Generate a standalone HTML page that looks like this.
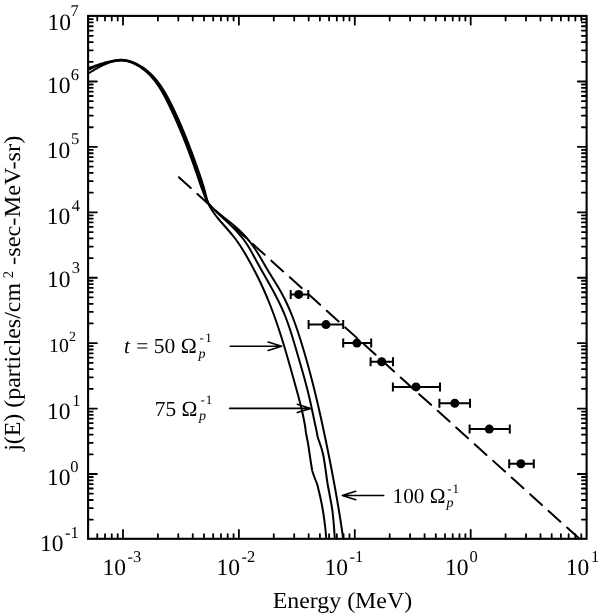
<!DOCTYPE html><html><head><meta charset="utf-8"><style>html,body{margin:0;padding:0;background:#fff;}body{width:600px;height:614px;overflow:hidden;font-family:"Liberation Serif",serif;}svg{display:block;will-change:transform;}text{text-rendering:geometricPrecision;}</style></head><body><svg width="600" height="614" viewBox="0 0 600 614">
<defs><clipPath id="pc"><rect x="88.10" y="15.90" width="498.50" height="522.90"/></clipPath></defs>
<g clip-path="url(#pc)" fill="none" stroke="#000" stroke-width="2" stroke-linejoin="round" stroke-linecap="round">
<path d="M82.85,70.57 L84.26,69.97 L85.65,69.40 L87.01,68.84 L88.34,68.31 L89.64,67.80 L90.92,67.30 L92.17,66.83 L93.39,66.37 L94.59,65.94 L95.77,65.52 L96.91,65.12 L98.04,64.74 L99.14,64.38 L100.21,64.03 L101.26,63.71 L102.29,63.39 L103.30,63.10 L104.28,62.82 L105.24,62.56 L106.18,62.31 L107.10,62.08 L108.00,61.86 L108.88,61.65 L109.74,61.46 L110.57,61.28 L111.39,61.11 L112.19,60.93 L112.97,60.76 L113.73,60.60 L114.48,60.46 L115.21,60.33 L115.93,60.22 L116.63,60.12 L117.32,60.04 L118.00,59.97 L118.66,59.91 L119.31,59.87 L119.95,59.84 L120.57,59.82 L121.19,59.81 L121.79,59.82 L122.38,59.84 L122.96,59.87 L123.53,59.90 L124.09,59.95 L124.64,60.01 L125.18,60.08 L125.71,60.16 L126.23,60.25 L126.74,60.34 L127.25,60.45 L127.74,60.56 L128.23,60.68 L128.71,60.81 L129.19,60.94 L129.66,61.08 L130.12,61.22 L130.57,61.37 L131.02,61.53 L131.47,61.69 L131.91,61.85 L132.35,62.02 L132.78,62.19 L133.21,62.37 L133.63,62.55 L134.05,62.73 L134.47,62.92 L134.88,63.10 L135.30,63.29 L135.71,63.48 L136.12,63.68 L136.52,63.88 L136.92,64.08 L137.32,64.28 L137.72,64.49 L138.11,64.70 L138.51,64.91 L138.89,65.12 L139.28,65.34 L139.67,65.56 L140.05,65.78 L140.43,66.00 L140.80,66.23 L141.18,66.46 L141.55,66.69 L141.92,66.93 L142.29,67.16 L142.65,67.40 L143.01,67.65 L143.37,67.89 L143.73,68.14 L144.09,68.39 L144.44,68.64 L144.79,68.89 L145.14,69.15 L145.48,69.41 L145.83,69.67 L146.17,69.94 L146.51,70.20 L146.84,70.47 L147.18,70.74 L147.51,71.02 L147.84,71.29 L148.17,71.57 L148.50,71.85 L148.82,72.13 L149.14,72.42 L149.46,72.71 L149.78,73.00 L150.09,73.29 L150.41,73.58 L150.72,73.88 L151.03,74.18 L151.33,74.48 L151.64,74.78 L151.94,75.08 L152.24,75.39 L152.54,75.70 L152.84,76.01 L153.14,76.32 L153.43,76.63 L153.72,76.95 L154.01,77.27 L154.30,77.59 L154.59,77.91 L154.87,78.23 L155.15,78.56 L155.43,78.88 L155.71,79.21 L155.99,79.54 L156.26,79.88 L156.54,80.21 L156.81,80.55 L157.08,80.88 L157.35,81.22 L157.62,81.56 L157.88,81.91 L158.15,82.25 L158.41,82.60 L158.67,82.94 L158.93,83.29 L159.18,83.64 L159.44,84.00 L159.69,84.35 L159.95,84.70 L160.20,85.06 L160.45,85.42 L160.70,85.78 L160.94,86.14 L161.19,86.50 L161.43,86.86 L161.68,87.23 L161.92,87.59 L162.16,87.96 L162.40,88.33 L162.63,88.70 L162.87,89.07 L163.10,89.44 L163.34,89.82 L163.57,90.19 L163.80,90.57 L164.03,90.94 L164.26,91.32 L164.49,91.70 L164.71,92.08 L164.94,92.46 L165.16,92.84 L165.39,93.22 L165.61,93.61 L165.83,93.99 L166.05,94.38 L166.27,94.77 L166.49,95.15 L166.71,95.54 L166.92,95.93 L167.14,96.32 L167.35,96.71 L167.56,97.10 L167.78,97.50 L167.99,97.89 L168.20,98.28 L168.41,98.68 L168.62,99.07 L168.83,99.47 L169.04,99.87 L169.24,100.26 L169.45,100.66 L169.66,101.06 L169.86,101.46 L170.06,101.86 L170.27,102.26 L170.47,102.66 L170.67,103.06 L170.88,103.46 L171.08,103.87 L171.28,104.27 L171.48,104.67 L171.68,105.08 L171.88,105.48 L172.08,105.88 L172.27,106.29 L172.47,106.69 L172.67,107.10 L172.87,107.50 L173.06,107.91 L173.26,108.32 L173.45,108.72 L173.65,109.13 L173.85,109.54 L174.04,109.95 L174.23,110.35 L174.43,110.76 L174.62,111.17 L174.81,111.58 L175.01,111.99 L175.20,112.40 L175.39,112.81 L175.58,113.22 L175.77,113.64 L175.96,114.05 L176.15,114.46 L176.34,114.87 L176.53,115.28 L176.72,115.70 L176.91,116.11 L177.10,116.52 L177.29,116.94 L177.47,117.35 L177.66,117.77 L177.85,118.18 L178.03,118.60 L178.22,119.02 L178.40,119.43 L178.59,119.85 L178.77,120.27 L178.96,120.68 L179.14,121.10 L179.32,121.52 L179.51,121.94 L179.69,122.36 L179.87,122.77 L180.06,123.19 L180.24,123.61 L180.42,124.03 L180.60,124.45 L180.78,124.87 L180.96,125.29 L181.14,125.72 L181.32,126.14 L181.50,126.56 L181.68,126.98 L181.86,127.40 L182.04,127.83 L182.22,128.25 L182.40,128.67 L182.57,129.10 L182.75,129.52 L182.93,129.94 L183.11,130.37 L183.28,130.79 L183.46,131.22 L183.63,131.64 L183.81,132.07 L183.99,132.49 L184.16,132.92 L184.34,133.35 L184.51,133.77 L184.69,134.20 L184.86,134.63 L185.03,135.05 L185.21,135.48 L185.38,135.91 L185.55,136.34 L185.73,136.77 L185.90,137.20 L186.07,137.63 L186.24,138.06 L186.41,138.48 L186.58,138.91 L186.76,139.35 L186.93,139.78 L187.10,140.21 L187.27,140.64 L187.44,141.07 L187.61,141.50 L187.78,141.93 L187.94,142.36 L188.11,142.80 L188.28,143.23 L188.45,143.66 L188.62,144.10 L188.79,144.53 L188.95,144.96 L189.12,145.40 L189.29,145.83 L189.45,146.26 L189.62,146.70 L189.79,147.13 L189.95,147.57 L190.12,148.00 L190.28,148.44 L190.45,148.88 L190.62,149.31 L190.78,149.75 L190.94,150.19 L191.11,150.62 L191.27,151.06 L191.44,151.50 L191.60,151.93 L191.76,152.37 L191.93,152.81 L192.09,153.25 L192.25,153.69 L192.41,154.13 L192.58,154.56 L192.74,155.00 L192.90,155.44 L193.06,155.88 L193.22,156.32 L193.38,156.76 L193.54,157.20 L193.70,157.64 L193.86,158.08 L194.02,158.52 L194.18,158.97 L194.34,159.41 L194.50,159.85 L194.66,160.29 L194.82,160.73 L194.98,161.17 L195.14,161.62 L195.30,162.06 L195.45,162.50 L195.61,162.95 L195.77,163.39 L195.93,163.83 L196.08,164.28 L196.24,164.72 L196.40,165.16 L196.56,165.61 L196.71,166.05 L196.87,166.50 L197.02,166.94 L197.18,167.39 L197.34,167.83 L197.49,168.28 L197.65,168.72 L197.80,169.17 L197.96,169.62 L198.11,170.06 L198.26,170.51 L198.42,170.96 L198.57,171.40 L198.73,171.85 L198.88,172.30 L199.03,172.74 L199.19,173.19 L199.34,173.64 L199.49,174.09 L199.65,174.54 L199.80,174.98 L199.95,175.43 L200.10,175.88 L200.25,176.33 L200.41,176.78 L200.56,177.23 L200.71,177.68 L200.86,178.13 L201.01,178.58 L201.16,179.03 L201.31,179.48 L201.46,179.93 L201.61,180.38 L201.76,180.83 L201.91,181.28 L202.06,181.73 L202.21,182.18 L202.36,182.63 L202.51,183.08 L202.65,183.54 L202.80,183.99 L202.94,184.44 L203.08,184.90 L203.21,185.35 L203.35,185.81 L203.48,186.27 L203.62,186.73 L203.75,187.18 L203.88,187.64 L204.01,188.10 L204.14,188.56 L204.27,189.02 L204.39,189.48 L204.52,189.94 L204.64,190.40 L204.77,190.86 L204.89,191.32 L205.01,191.78 L205.14,192.25 L205.26,192.71 L205.38,193.17 L205.50,193.63 L205.62,194.09 L205.74,194.56 L205.86,195.02 L205.99,195.48 L206.11,195.95 L206.23,196.41 L206.35,196.87 L206.47,197.33 L206.59,197.80 L206.71,198.26 L206.81,198.65 L208.20,203.00 L208.41,203.50 L208.62,204.00 L208.84,204.50 L209.07,205.00 L209.31,205.50 L209.56,206.00 L209.82,206.50 L210.09,207.00 L210.36,207.50 L210.64,208.00 L210.93,208.50 L211.23,209.00 L211.54,209.50 L211.85,210.00 L212.17,210.50 L212.50,211.00 L212.84,211.50 L213.18,212.00 L213.52,212.50 L213.88,213.00 L214.24,213.50 L214.60,214.00 L214.97,214.50 L215.35,215.00 L215.73,215.50 L216.12,216.00 L216.51,216.50 L216.90,217.00 L217.30,217.50 L217.71,218.00 L218.12,218.50 L218.53,219.00 L218.95,219.50 L219.37,220.00 L219.79,220.50 L220.21,221.00 L220.64,221.50 L221.07,222.00 L221.51,222.50 L221.94,223.00 L222.38,223.50 L222.82,224.00 L223.26,224.50 L223.70,225.00 L224.14,225.50 L224.58,226.00 L225.02,226.50 L225.47,227.00 L225.91,227.50 L226.35,228.00 L226.79,228.50 L227.23,229.00 L227.67,229.50 L228.10,230.00 L228.54,230.50 L228.97,231.00 L229.40,231.50 L229.83,232.00 L230.26,232.50 L230.68,233.00 L231.10,233.50 L231.51,234.00 L231.93,234.50 L232.33,235.00 L232.74,235.50 L233.14,236.00 L233.53,236.50 L233.92,237.00 L234.31,237.50 L234.70,238.00 L235.07,238.50 L235.45,239.00 L235.82,239.50 L236.19,240.00 L236.56,240.50 L236.92,241.00 L237.28,241.50 L237.63,242.00 L237.98,242.50 L238.33,243.00 L238.67,243.50 L239.02,244.00 L239.35,244.50 L239.69,245.00 L240.02,245.50 L240.35,246.00 L240.68,246.50 L241.01,247.00 L241.33,247.50 L241.65,248.00 L241.96,248.50 L242.28,249.00 L242.59,249.50 L242.90,250.00 L243.21,250.50 L243.52,251.00 L243.82,251.50 L244.12,252.00 L244.42,252.50 L244.72,253.00 L245.02,253.50 L245.31,254.00 L245.60,254.50 L245.89,255.00 L246.18,255.50 L246.47,256.00 L246.76,256.50 L247.05,257.00 L247.33,257.50 L247.61,258.00 L247.90,258.50 L248.18,259.00 L248.46,259.50 L248.74,260.00 L249.02,260.50 L249.30,261.00 L249.57,261.50 L249.85,262.00 L250.13,262.50 L250.40,263.00 L250.67,263.50 L250.95,264.00 L251.22,264.50 L251.49,265.00 L251.76,265.50 L252.03,266.00 L252.30,266.50 L252.57,267.00 L252.84,267.50 L253.10,268.00 L253.37,268.50 L253.63,269.00 L253.90,269.50 L254.16,270.00 L254.42,270.50 L254.68,271.00 L254.94,271.50 L255.20,272.00 L255.46,272.50 L255.72,273.00 L255.97,273.50 L256.23,274.00 L256.48,274.50 L256.73,275.00 L256.99,275.50 L257.24,276.00 L257.49,276.50 L257.74,277.00 L257.99,277.50 L258.23,278.00 L258.48,278.50 L258.72,279.00 L258.97,279.50 L259.21,280.00 L259.45,280.50 L259.69,281.00 L259.93,281.50 L260.17,282.00 L260.41,282.50 L260.65,283.00 L260.88,283.50 L261.12,284.00 L261.35,284.50 L261.58,285.00 L261.82,285.50 L262.05,286.00 L262.28,286.50 L262.51,287.00 L262.73,287.50 L262.96,288.00 L263.19,288.50 L263.41,289.00 L263.64,289.50 L263.86,290.00 L264.08,290.50 L264.30,291.00 L264.52,291.50 L264.74,292.00 L264.96,292.50 L265.18,293.00 L265.39,293.50 L265.61,294.00 L265.82,294.50 L266.04,295.00 L266.25,295.50 L266.46,296.00 L266.67,296.50 L266.88,297.00 L267.09,297.50 L267.30,298.00 L267.51,298.50 L267.72,299.00 L267.92,299.50 L268.13,300.00 L268.33,300.50 L268.54,301.00 L268.74,301.50 L268.94,302.00 L269.14,302.50 L269.34,303.00 L269.54,303.50 L269.74,304.00 L269.94,304.50 L270.13,305.00 L270.33,305.50 L270.53,306.00 L270.72,306.50 L270.92,307.00 L271.11,307.50 L271.30,308.00 L271.49,308.50 L271.68,309.00 L271.87,309.50 L272.06,310.00 L272.25,310.50 L272.44,311.00 L272.63,311.50 L272.81,312.00 L273.00,312.50 L273.18,313.00 L273.37,313.50 L273.55,314.00 L273.74,314.50 L273.92,315.00 L274.10,315.50 L274.28,316.00 L274.46,316.50 L274.64,317.00 L274.82,317.50 L275.00,318.00 L275.18,318.50 L275.35,319.00 L275.53,319.50 L275.71,320.00 L275.88,320.50 L276.06,321.00 L276.23,321.50 L276.40,322.00 L276.58,322.50 L276.75,323.00 L276.92,323.50 L277.09,324.00 L277.26,324.50 L277.43,325.00 L277.60,325.50 L277.77,326.00 L277.94,326.50 L278.11,327.00 L278.27,327.50 L278.44,328.00 L278.61,328.50 L278.77,329.00 L278.94,329.50 L279.10,330.00 L279.27,330.50 L279.43,331.00 L279.59,331.50 L279.75,332.00 L279.92,332.50 L280.08,333.00 L280.24,333.50 L280.40,334.00 L280.56,334.50 L280.72,335.00 L280.88,335.50 L281.04,336.00 L281.20,336.50 L281.35,337.00 L281.51,337.50 L281.67,338.00 L281.82,338.50 L281.98,339.00 L282.14,339.50 L282.29,340.00 L282.45,340.50 L282.60,341.00 L282.76,341.50 L282.91,342.00 L283.06,342.50 L283.21,343.00 L283.37,343.50 L283.52,344.00 L283.67,344.50 L283.82,345.00 L283.97,345.50 L284.12,346.00 L284.28,346.50 L284.43,347.00 L284.58,347.50 L284.72,348.00 L284.87,348.50 L285.02,349.00 L285.17,349.50 L285.32,350.00 L285.47,350.50 L285.61,351.00 L285.76,351.50 L285.91,352.00 L286.06,352.50 L286.20,353.00 L286.35,353.50 L286.49,354.00 L286.64,354.50 L286.79,355.00 L286.93,355.50 L287.08,356.00 L287.22,356.50 L287.37,357.00 L287.51,357.50 L287.65,358.00 L287.80,358.50 L287.94,359.00 L288.08,359.50 L288.23,360.00 L288.37,360.50 L288.51,361.00 L288.66,361.50 L288.80,362.00 L288.94,362.50 L289.08,363.00 L289.23,363.50 L289.37,364.00 L289.51,364.50 L289.65,365.00 L289.79,365.50 L289.93,366.00 L290.07,366.50 L290.22,367.00 L290.36,367.50 L290.50,368.00 L290.64,368.50 L290.78,369.00 L290.92,369.50 L291.06,370.00 L291.20,370.50 L291.34,371.00 L291.48,371.50 L291.62,372.00 L291.76,372.50 L291.90,373.00 L292.04,373.50 L292.18,374.00 L292.32,374.50 L292.46,375.00 L292.60,375.50 L292.74,376.00 L292.88,376.50 L293.02,377.00 L293.16,377.50 L293.30,378.00 L293.44,378.50 L293.58,379.00 L293.72,379.50 L293.86,380.00 L294.00,380.50 L294.14,381.00 L294.28,381.50 L294.42,382.00 L294.56,382.50 L294.70,383.00 L294.84,383.50 L294.98,384.00 L295.12,384.50 L295.26,385.00 L295.40,385.50 L295.54,386.00 L295.68,386.50 L295.81,387.00 L295.95,387.50 L296.09,388.00 L296.23,388.50 L296.37,389.00 L296.51,389.50 L296.64,390.00 L296.78,390.50 L296.92,391.00 L297.06,391.50 L297.19,392.00 L297.33,392.50 L297.46,393.00 L297.60,393.50 L297.74,394.00 L297.87,394.50 L298.01,395.00 L298.14,395.50 L298.27,396.00 L298.41,396.50 L298.54,397.00 L298.67,397.50 L298.80,398.00 L298.94,398.50 L299.07,399.00 L299.20,399.50 L299.33,400.00 L299.46,400.50 L299.59,401.00 L299.72,401.50 L299.84,402.00 L299.97,402.50 L300.10,403.00 L300.22,403.50 L300.35,404.00 L300.47,404.50 L300.60,405.00 L300.72,405.50 L300.84,406.00 L300.97,406.50 L301.09,407.00 L301.21,407.50 L301.33,408.00 L301.45,408.50 L301.57,409.00 L301.69,409.50 L301.80,410.00 L301.92,410.50 L302.03,411.00 L302.15,411.50 L302.26,412.00 L302.37,412.50 L302.49,413.00 L302.60,413.50 L302.71,414.00 L302.82,414.50 L302.93,415.00 L303.03,415.50 L303.14,416.00 L303.24,416.50 L303.35,417.00 L303.45,417.50 L303.56,418.00 L303.66,418.50 L303.76,419.00 L303.86,419.50 L303.95,420.00 L304.05,420.50 L304.15,421.00 L304.24,421.50 L304.34,422.00 L304.43,422.50 L304.52,423.00 L304.61,423.50 L304.71,424.00 L304.79,424.50 L304.88,425.00 L304.97,425.50 L305.05,426.00 L305.13,426.50 L305.20,427.00 L305.27,427.50 L305.34,428.00 L305.40,428.50 L305.47,429.00 L305.53,429.50 L305.59,430.00 L305.65,430.50 L305.71,431.00 L305.78,431.50 L305.86,432.00 L305.93,432.50 L306.02,433.00 L306.11,433.50 L306.20,434.00 L306.29,434.50 L306.39,435.00 L306.49,435.50 L306.58,436.00 L306.68,436.50 L306.77,437.00 L306.87,437.50 L306.97,438.00 L307.07,438.50 L307.17,439.00 L307.27,439.50 L307.37,440.00 L307.48,440.50 L307.57,441.00 L307.67,441.50 L307.77,442.00 L307.86,442.50 L307.95,443.00 L308.03,443.50 L308.12,444.00 L308.20,444.50 L308.28,445.00 L308.36,445.50 L308.44,446.00 L308.52,446.50 L308.59,447.00 L308.67,447.50 L308.74,448.00 L308.82,448.50 L308.89,449.00 L308.96,449.50 L309.03,450.00 L309.10,450.50 L309.17,451.00 L309.25,451.50 L309.32,452.00 L309.39,452.50 L309.46,453.00 L309.53,453.50 L309.60,454.00 L309.67,454.50 L309.75,455.00 L309.82,455.50 L309.89,456.00 L309.97,456.50 L310.05,457.00 L310.12,457.50 L310.20,458.00 L310.28,458.50 L310.36,459.00 L310.43,459.50 L310.51,460.00 L310.59,460.50 L310.67,461.00 L310.75,461.50 L310.83,462.00 L310.90,462.50 L310.98,463.00 L311.06,463.50 L311.14,464.00 L311.22,464.50 L311.30,465.00 L311.38,465.50 L311.45,466.00 L311.52,466.50 L311.59,467.00 L311.67,467.50 L311.74,468.00 L311.82,468.50 L311.91,469.00 L312.00,469.50 L312.10,470.00 L312.21,470.50 L312.34,471.00 L312.49,471.50 L312.64,472.00 L312.80,472.50 L312.97,473.00 L313.13,473.50 L313.30,474.00 L313.47,474.50 L313.64,475.00 L313.81,475.50 L313.99,476.00 L314.18,476.50 L314.36,477.00 L314.55,477.50 L314.74,478.00 L314.92,478.50 L315.11,479.00 L315.30,479.50 L315.49,480.00 L315.69,480.50 L315.89,481.00 L316.10,481.50 L316.31,482.00 L316.51,482.50 L316.71,483.00 L316.90,483.50 L317.07,484.00 L317.24,484.50 L317.39,485.00 L317.53,485.50 L317.66,486.00 L317.79,486.50 L317.91,487.00 L318.03,487.50 L318.14,488.00 L318.25,488.50 L318.37,489.00 L318.48,489.50 L318.60,490.00 L318.72,490.50 L318.84,491.00 L318.96,491.50 L319.08,492.00 L319.20,492.50 L319.32,493.00 L319.43,493.50 L319.55,494.00 L319.67,494.50 L319.79,495.00 L319.90,495.50 L320.02,496.00 L320.13,496.50 L320.25,497.00 L320.36,497.50 L320.47,498.00 L320.58,498.50 L320.69,499.00 L320.80,499.50 L320.90,500.00 L321.00,500.50 L321.11,501.00 L321.21,501.50 L321.31,502.00 L321.41,502.50 L321.51,503.00 L321.61,503.50 L321.71,504.00 L321.80,504.50 L321.90,505.00 L322.00,505.50 L322.09,506.00 L322.18,506.50 L322.27,507.00 L322.36,507.50 L322.45,508.00 L322.54,508.50 L322.63,509.00 L322.72,509.50 L322.80,510.00 L322.88,510.50 L322.97,511.00 L323.05,511.50 L323.13,512.00 L323.21,512.50 L323.29,513.00 L323.36,513.50 L323.44,514.00 L323.52,514.50 L323.59,515.00 L323.67,515.50 L323.74,516.00 L323.81,516.50 L323.89,517.00 L323.96,517.50 L324.03,518.00 L324.10,518.50 L324.17,519.00 L324.23,519.50 L324.30,520.00 L324.37,520.50 L324.43,521.00 L324.50,521.50 L324.56,522.00 L324.63,522.50 L324.69,523.00 L324.76,523.50 L324.82,524.00 L324.88,524.50 L324.94,525.00 L325.00,525.50 L325.06,526.00 L325.12,526.50 L325.18,527.00 L325.24,527.50 L325.29,528.00 L325.35,528.50 L325.40,529.00 L325.45,529.50 L325.50,530.00 L325.55,530.50 L325.60,531.00 L325.65,531.50 L325.69,532.00 L325.74,532.50 L325.78,533.00 L325.83,533.50 L325.87,534.00 L325.92,534.50 L325.96,535.00 L326.00,535.50 L326.04,536.00 L326.08,536.50 L326.12,537.00 L326.16,537.50 L326.20,538.00 L326.23,538.50 L326.27,539.00 L326.30,539.50"/>
<path d="M83.68,72.08 L85.04,71.42 L86.38,70.78 L87.70,70.16 L88.99,69.57 L90.25,69.00 L91.49,68.44 L92.70,67.92 L93.89,67.41 L95.05,66.92 L96.19,66.45 L97.31,66.01 L98.40,65.58 L99.47,65.17 L100.52,64.79 L101.55,64.42 L102.55,64.07 L103.54,63.74 L104.50,63.42 L105.44,63.13 L106.36,62.85 L107.26,62.58 L108.15,62.34 L109.01,62.11 L109.86,61.89 L110.68,61.69 L111.49,61.50 L112.28,61.32 L113.05,61.15 L113.81,60.99 L114.55,60.85 L115.27,60.73 L115.98,60.62 L116.68,60.52 L117.36,60.44 L118.03,60.37 L118.69,60.31 L119.33,60.27 L119.96,60.24 L120.58,60.22 L121.19,60.21 L121.78,60.22 L122.36,60.24 L122.93,60.27 L123.50,60.30 L124.05,60.35 L124.59,60.41 L125.12,60.48 L125.64,60.56 L126.16,60.64 L126.66,60.74 L127.16,60.84 L127.65,60.95 L128.13,61.07 L128.61,61.19 L129.08,61.32 L129.54,61.46 L129.99,61.61 L130.44,61.76 L130.89,61.91 L131.33,62.07 L131.76,62.24 L132.19,62.41 L132.62,62.58 L133.04,62.76 L133.46,62.94 L133.87,63.13 L134.29,63.31 L134.70,63.50 L135.11,63.69 L135.51,63.89 L135.91,64.09 L136.31,64.29 L136.71,64.49 L137.10,64.70 L137.49,64.91 L137.88,65.12 L138.26,65.34 L138.65,65.55 L139.03,65.77 L139.40,66.00 L139.78,66.22 L140.15,66.45 L140.52,66.68 L140.89,66.91 L141.25,67.15 L141.61,67.39 L141.97,67.63 L142.33,67.87 L142.68,68.12 L143.03,68.37 L143.38,68.62 L143.73,68.87 L144.07,69.13 L144.42,69.38 L144.76,69.64 L145.09,69.91 L145.43,70.17 L145.76,70.44 L146.09,70.71 L146.42,70.98 L146.75,71.25 L147.07,71.53 L147.39,71.81 L147.71,72.09 L148.03,72.37 L148.34,72.66 L148.66,72.94 L148.97,73.23 L149.27,73.53 L149.58,73.82 L149.89,74.11 L150.19,74.41 L150.49,74.71 L150.79,75.01 L151.08,75.32 L151.38,75.62 L151.67,75.93 L151.96,76.24 L152.25,76.55 L152.54,76.86 L152.82,77.18 L153.10,77.50 L153.38,77.82 L153.66,78.14 L153.94,78.46 L154.22,78.78 L154.49,79.11 L154.76,79.44 L155.03,79.77 L155.30,80.10 L155.57,80.43 L155.83,80.77 L156.10,81.10 L156.36,81.44 L156.62,81.78 L156.88,82.12 L157.14,82.46 L157.39,82.81 L157.65,83.15 L157.90,83.50 L158.15,83.85 L158.40,84.20 L158.65,84.55 L158.90,84.90 L159.14,85.26 L159.38,85.62 L159.63,85.97 L159.87,86.33 L160.11,86.69 L160.35,87.05 L160.58,87.42 L160.82,87.78 L161.05,88.15 L161.29,88.51 L161.52,88.88 L161.75,89.25 L161.98,89.62 L162.21,89.99 L162.44,90.36 L162.66,90.74 L162.89,91.11 L163.11,91.49 L163.34,91.86 L163.56,92.24 L163.78,92.62 L164.00,93.00 L164.22,93.38 L164.43,93.77 L164.65,94.15 L164.87,94.53 L165.08,94.92 L165.30,95.30 L165.51,95.69 L165.72,96.08 L165.93,96.47 L166.14,96.86 L166.35,97.25 L166.56,97.64 L166.77,98.03 L166.98,98.42 L167.18,98.82 L167.39,99.21 L167.59,99.61 L167.80,100.00 L168.00,100.40 L168.21,100.79 L168.41,101.19 L168.61,101.59 L168.81,101.99 L169.01,102.39 L169.21,102.79 L169.41,103.19 L169.61,103.59 L169.81,103.99 L170.01,104.39 L170.21,104.79 L170.40,105.20 L170.60,105.60 L170.80,106.00 L170.99,106.41 L171.19,106.81 L171.38,107.22 L171.58,107.62 L171.77,108.03 L171.97,108.43 L172.16,108.84 L172.35,109.25 L172.55,109.65 L172.74,110.06 L172.93,110.47 L173.12,110.88 L173.31,111.29 L173.51,111.69 L173.70,112.10 L173.89,112.51 L174.08,112.92 L174.27,113.33 L174.46,113.74 L174.65,114.15 L174.84,114.56 L175.02,114.98 L175.21,115.39 L175.40,115.80 L175.59,116.21 L175.78,116.62 L175.96,117.04 L176.15,117.45 L176.34,117.86 L176.52,118.28 L176.71,118.69 L176.89,119.11 L177.08,119.52 L177.26,119.94 L177.45,120.35 L177.63,120.77 L177.81,121.19 L178.00,121.60 L178.18,122.02 L178.36,122.44 L178.55,122.85 L178.73,123.27 L178.91,123.69 L179.09,124.11 L179.27,124.53 L179.45,124.95 L179.63,125.37 L179.81,125.79 L179.99,126.21 L180.17,126.63 L180.35,127.05 L180.53,127.47 L180.71,127.89 L180.89,128.31 L181.07,128.73 L181.24,129.16 L181.42,129.58 L181.60,130.00 L181.78,130.42 L181.95,130.85 L182.13,131.27 L182.30,131.70 L182.48,132.12 L182.66,132.54 L182.83,132.97 L183.01,133.39 L183.18,133.82 L183.35,134.25 L183.53,134.67 L183.70,135.10 L183.87,135.53 L184.05,135.95 L184.22,136.38 L184.39,136.81 L184.57,137.23 L184.74,137.66 L184.91,138.09 L185.08,138.52 L185.25,138.95 L185.42,139.38 L185.59,139.81 L185.76,140.24 L185.93,140.67 L186.10,141.10 L186.27,141.53 L186.44,141.96 L186.61,142.39 L186.78,142.82 L186.95,143.25 L187.12,143.68 L187.29,144.11 L187.45,144.55 L187.62,144.98 L187.79,145.41 L187.95,145.85 L188.12,146.28 L188.29,146.71 L188.45,147.15 L188.62,147.58 L188.79,148.01 L188.95,148.45 L189.12,148.88 L189.28,149.32 L189.45,149.75 L189.61,150.19 L189.77,150.63 L189.94,151.06 L190.10,151.50 L190.27,151.93 L190.43,152.37 L190.59,152.81 L190.75,153.25 L190.92,153.68 L191.08,154.12 L191.24,154.56 L191.40,155.00 L191.56,155.44 L191.73,155.87 L191.89,156.31 L192.05,156.75 L192.21,157.19 L192.37,157.63 L192.53,158.07 L192.69,158.51 L192.85,158.95 L193.01,159.39 L193.17,159.83 L193.33,160.27 L193.49,160.71 L193.64,161.16 L193.80,161.60 L193.96,162.04 L194.12,162.48 L194.28,162.92 L194.43,163.37 L194.59,163.81 L194.75,164.25 L194.91,164.69 L195.06,165.14 L195.22,165.58 L195.38,166.02 L195.53,166.47 L195.69,166.91 L195.84,167.36 L196.00,167.80 L196.15,168.25 L196.31,168.69 L196.46,169.14 L196.62,169.58 L196.77,170.03 L196.93,170.47 L197.08,170.92 L197.24,171.36 L197.39,171.81 L197.54,172.26 L197.70,172.70 L197.85,173.15 L198.00,173.60 L198.16,174.04 L198.31,174.49 L198.46,174.94 L198.61,175.39 L198.77,175.83 L198.92,176.28 L199.07,176.73 L199.22,177.18 L199.37,177.63 L199.52,178.08 L199.68,178.52 L199.83,178.97 L199.98,179.42 L200.13,179.87 L200.28,180.32 L200.43,180.77 L200.58,181.22 L200.73,181.67 L200.88,182.12 L201.03,182.57 L201.18,183.02 L201.33,183.47 L201.47,183.93 L201.62,184.38 L201.77,184.83 L201.92,185.28 L202.07,185.73 L202.22,186.18 L202.37,186.63 L202.51,187.09 L202.66,187.54 L202.81,187.99 L202.96,188.44 L203.10,188.90 L203.25,189.35 L203.40,189.80 L203.55,190.25 L203.69,190.71 L203.84,191.16 L203.99,191.61 L204.13,192.07 L204.28,192.52 L204.42,192.98 L204.57,193.43 L204.72,193.88 L204.86,194.34 L205.01,194.79 L205.15,195.25 L205.30,195.70 L205.44,196.16 L205.59,196.61 L205.73,197.07 L205.88,197.52 L206.02,197.98 L206.17,198.43 L206.29,198.81 L208.19,203.00 L208.57,203.50 L208.96,204.00 L209.37,204.50 L209.78,205.00 L210.21,205.50 L210.64,206.00 L211.09,206.50 L211.54,207.00 L212.00,207.50 L212.47,208.00 L212.95,208.50 L213.43,209.00 L213.92,209.50 L214.42,210.00 L214.92,210.50 L215.43,211.00 L215.95,211.50 L216.47,212.00 L216.99,212.50 L217.52,213.00 L218.05,213.50 L218.59,214.00 L219.12,214.50 L219.66,215.00 L220.21,215.50 L220.75,216.00 L221.30,216.50 L221.85,217.00 L222.39,217.50 L222.94,218.00 L223.49,218.50 L224.04,219.00 L224.59,219.50 L225.13,220.00 L225.68,220.50 L226.22,221.00 L226.77,221.50 L227.31,222.00 L227.85,222.50 L228.38,223.00 L228.91,223.50 L229.44,224.00 L229.97,224.50 L230.49,225.00 L231.01,225.50 L231.52,226.00 L232.03,226.50 L232.54,227.00 L233.04,227.50 L233.53,228.00 L234.03,228.50 L234.51,229.00 L235.00,229.50 L235.47,230.00 L235.95,230.50 L236.42,231.00 L236.88,231.50 L237.34,232.00 L237.79,232.50 L238.24,233.00 L238.68,233.50 L239.12,234.00 L239.56,234.50 L239.98,235.00 L240.41,235.50 L240.82,236.00 L241.24,236.50 L241.64,237.00 L242.05,237.50 L242.44,238.00 L242.83,238.50 L243.22,239.00 L243.59,239.50 L243.97,240.00 L244.34,240.50 L244.70,241.00 L245.05,241.50 L245.40,242.00 L245.75,242.50 L246.09,243.00 L246.43,243.50 L246.76,244.00 L247.09,244.50 L247.41,245.00 L247.73,245.50 L248.04,246.00 L248.35,246.50 L248.66,247.00 L248.96,247.50 L249.26,248.00 L249.56,248.50 L249.85,249.00 L250.15,249.50 L250.43,250.00 L250.72,250.50 L251.00,251.00 L251.29,251.50 L251.57,252.00 L251.84,252.50 L252.12,253.00 L252.39,253.50 L252.67,254.00 L252.94,254.50 L253.21,255.00 L253.48,255.50 L253.75,256.00 L254.02,256.50 L254.29,257.00 L254.56,257.50 L254.83,258.00 L255.10,258.50 L255.37,259.00 L255.63,259.50 L255.91,260.00 L256.18,260.50 L256.45,261.00 L256.72,261.50 L256.99,262.00 L257.27,262.50 L257.54,263.00 L257.82,263.50 L258.10,264.00 L258.37,264.50 L258.65,265.00 L258.93,265.50 L259.21,266.00 L259.48,266.50 L259.76,267.00 L260.04,267.50 L260.32,268.00 L260.61,268.50 L260.89,269.00 L261.17,269.50 L261.45,270.00 L261.73,270.50 L262.01,271.00 L262.30,271.50 L262.58,272.00 L262.86,272.50 L263.15,273.00 L263.43,273.50 L263.71,274.00 L263.99,274.50 L264.28,275.00 L264.56,275.50 L264.85,276.00 L265.13,276.50 L265.41,277.00 L265.70,277.50 L265.98,278.00 L266.26,278.50 L266.54,279.00 L266.83,279.50 L267.11,280.00 L267.39,280.50 L267.67,281.00 L267.95,281.50 L268.24,282.00 L268.52,282.50 L268.80,283.00 L269.08,283.50 L269.36,284.00 L269.64,284.50 L269.92,285.00 L270.19,285.50 L270.47,286.00 L270.75,286.50 L271.02,287.00 L271.30,287.50 L271.58,288.00 L271.85,288.50 L272.12,289.00 L272.40,289.50 L272.67,290.00 L272.94,290.50 L273.21,291.00 L273.48,291.50 L273.75,292.00 L274.02,292.50 L274.29,293.00 L274.55,293.50 L274.82,294.00 L275.08,294.50 L275.35,295.00 L275.61,295.50 L275.87,296.00 L276.13,296.50 L276.39,297.00 L276.65,297.50 L276.90,298.00 L277.16,298.50 L277.41,299.00 L277.67,299.50 L277.92,300.00 L278.17,300.50 L278.42,301.00 L278.66,301.50 L278.91,302.00 L279.15,302.50 L279.40,303.00 L279.64,303.50 L279.88,304.00 L280.12,304.50 L280.36,305.00 L280.59,305.50 L280.83,306.00 L281.06,306.50 L281.29,307.00 L281.52,307.50 L281.74,308.00 L281.97,308.50 L282.19,309.00 L282.42,309.50 L282.64,310.00 L282.85,310.50 L283.07,311.00 L283.29,311.50 L283.50,312.00 L283.71,312.50 L283.92,313.00 L284.13,313.50 L284.33,314.00 L284.54,314.50 L284.74,315.00 L284.94,315.50 L285.14,316.00 L285.34,316.50 L285.53,317.00 L285.73,317.50 L285.92,318.00 L286.11,318.50 L286.30,319.00 L286.49,319.50 L286.68,320.00 L286.87,320.50 L287.05,321.00 L287.23,321.50 L287.42,322.00 L287.60,322.50 L287.78,323.00 L287.96,323.50 L288.13,324.00 L288.31,324.50 L288.48,325.00 L288.66,325.50 L288.83,326.00 L289.00,326.50 L289.17,327.00 L289.34,327.50 L289.51,328.00 L289.68,328.50 L289.84,329.00 L290.01,329.50 L290.17,330.00 L290.34,330.50 L290.50,331.00 L290.66,331.50 L290.82,332.00 L290.98,332.50 L291.14,333.00 L291.30,333.50 L291.46,334.00 L291.61,334.50 L291.77,335.00 L291.93,335.50 L292.08,336.00 L292.23,336.50 L292.39,337.00 L292.54,337.50 L292.69,338.00 L292.85,338.50 L293.00,339.00 L293.15,339.50 L293.30,340.00 L293.45,340.50 L293.60,341.00 L293.75,341.50 L293.90,342.00 L294.05,342.50 L294.20,343.00 L294.35,343.50 L294.49,344.00 L294.64,344.50 L294.79,345.00 L294.94,345.50 L295.08,346.00 L295.23,346.50 L295.38,347.00 L295.52,347.50 L295.67,348.00 L295.82,348.50 L295.96,349.00 L296.11,349.50 L296.26,350.00 L296.40,350.50 L296.55,351.00 L296.70,351.50 L296.84,352.00 L296.99,352.50 L297.14,353.00 L297.28,353.50 L297.43,354.00 L297.58,354.50 L297.72,355.00 L297.87,355.50 L298.02,356.00 L298.16,356.50 L298.31,357.00 L298.46,357.50 L298.60,358.00 L298.75,358.50 L298.90,359.00 L299.04,359.50 L299.19,360.00 L299.33,360.50 L299.48,361.00 L299.63,361.50 L299.77,362.00 L299.92,362.50 L300.06,363.00 L300.21,363.50 L300.35,364.00 L300.50,364.50 L300.64,365.00 L300.79,365.50 L300.93,366.00 L301.07,366.50 L301.22,367.00 L301.36,367.50 L301.51,368.00 L301.65,368.50 L301.79,369.00 L301.94,369.50 L302.08,370.00 L302.22,370.50 L302.36,371.00 L302.50,371.50 L302.65,372.00 L302.79,372.50 L302.93,373.00 L303.07,373.50 L303.21,374.00 L303.35,374.50 L303.49,375.00 L303.63,375.50 L303.77,376.00 L303.91,376.50 L304.04,377.00 L304.18,377.50 L304.32,378.00 L304.46,378.50 L304.59,379.00 L304.73,379.50 L304.87,380.00 L305.00,380.50 L305.14,381.00 L305.27,381.50 L305.41,382.00 L305.54,382.50 L305.67,383.00 L305.81,383.50 L305.94,384.00 L306.07,384.50 L306.20,385.00 L306.34,385.50 L306.47,386.00 L306.60,386.50 L306.73,387.00 L306.86,387.50 L306.99,388.00 L307.11,388.50 L307.24,389.00 L307.37,389.50 L307.50,390.00 L307.62,390.50 L307.75,391.00 L307.87,391.50 L308.00,392.00 L308.12,392.50 L308.25,393.00 L308.37,393.50 L308.49,394.00 L308.61,394.50 L308.73,395.00 L308.85,395.50 L308.97,396.00 L309.09,396.50 L309.21,397.00 L309.33,397.50 L309.45,398.00 L309.56,398.50 L309.68,399.00 L309.79,399.50 L309.91,400.00 L310.02,400.50 L310.13,401.00 L310.25,401.50 L310.36,402.00 L310.47,402.50 L310.58,403.00 L310.69,403.50 L310.80,404.00 L310.91,404.50 L311.02,405.00 L311.13,405.50 L311.23,406.00 L311.34,406.50 L311.45,407.00 L311.56,407.50 L311.66,408.00 L311.77,408.50 L311.87,409.00 L311.98,409.50 L312.08,410.00 L312.19,410.50 L312.29,411.00 L312.40,411.50 L312.50,412.00 L312.61,412.50 L312.71,413.00 L312.82,413.50 L312.92,414.00 L313.03,414.50 L313.13,415.00 L313.24,415.50 L313.34,416.00 L313.44,416.50 L313.55,417.00 L313.65,417.50 L313.76,418.00 L313.86,418.50 L313.97,419.00 L314.08,419.50 L314.18,420.00 L314.29,420.50 L314.39,421.00 L314.50,421.50 L314.61,422.00 L314.72,422.50 L314.82,423.00 L314.93,423.50 L315.04,424.00 L315.15,424.50 L315.26,425.00 L315.37,425.50 L315.48,426.00 L315.59,426.50 L315.70,427.00 L315.81,427.50 L315.92,428.00 L316.02,428.50 L316.13,429.00 L316.23,429.50 L316.33,430.00 L316.43,430.50 L316.53,431.00 L316.62,431.50 L316.72,432.00 L316.82,432.50 L316.91,433.00 L317.01,433.50 L317.10,434.00 L317.20,434.50 L317.30,435.00 L317.40,435.50 L317.51,436.00 L317.61,436.50 L317.73,437.00 L317.86,437.50 L318.00,438.00 L318.15,438.50 L318.31,439.00 L318.48,439.50 L318.65,440.00 L318.83,440.50 L319.02,441.00 L319.19,441.50 L319.37,442.00 L319.53,442.50 L319.70,443.00 L319.88,443.50 L320.05,444.00 L320.22,444.50 L320.39,445.00 L320.57,445.50 L320.74,446.00 L320.90,446.50 L321.07,447.00 L321.23,447.50 L321.39,448.00 L321.54,448.50 L321.69,449.00 L321.83,449.50 L321.97,450.00 L322.10,450.50 L322.23,451.00 L322.36,451.50 L322.49,452.00 L322.62,452.50 L322.74,453.00 L322.86,453.50 L322.97,454.00 L323.08,454.50 L323.19,455.00 L323.30,455.50 L323.40,456.00 L323.50,456.50 L323.59,457.00 L323.69,457.50 L323.78,458.00 L323.87,458.50 L323.95,459.00 L324.04,459.50 L324.12,460.00 L324.20,460.50 L324.28,461.00 L324.36,461.50 L324.44,462.00 L324.52,462.50 L324.59,463.00 L324.67,463.50 L324.74,464.00 L324.82,464.50 L324.89,465.00 L324.97,465.50 L325.05,466.00 L325.12,466.50 L325.19,467.00 L325.26,467.50 L325.34,468.00 L325.41,468.50 L325.48,469.00 L325.54,469.50 L325.61,470.00 L325.68,470.50 L325.75,471.00 L325.82,471.50 L325.88,472.00 L325.95,472.50 L326.02,473.00 L326.09,473.50 L326.16,474.00 L326.23,474.50 L326.30,475.00 L326.37,475.50 L326.44,476.00 L326.51,476.50 L326.58,477.00 L326.65,477.50 L326.72,478.00 L326.79,478.50 L326.86,479.00 L326.93,479.50 L327.00,480.00 L327.07,480.50 L327.15,481.00 L327.22,481.50 L327.30,482.00 L327.37,482.50 L327.45,483.00 L327.53,483.50 L327.61,484.00 L327.70,484.50 L327.79,485.00 L327.87,485.50 L327.96,486.00 L328.05,486.50 L328.15,487.00 L328.24,487.50 L328.33,488.00 L328.43,488.50 L328.53,489.00 L328.62,489.50 L328.72,490.00 L328.82,490.50 L328.91,491.00 L329.01,491.50 L329.11,492.00 L329.21,492.50 L329.30,493.00 L329.40,493.50 L329.50,494.00 L329.59,494.50 L329.69,495.00 L329.78,495.50 L329.87,496.00 L329.96,496.50 L330.05,497.00 L330.14,497.50 L330.24,498.00 L330.33,498.50 L330.42,499.00 L330.51,499.50 L330.61,500.00 L330.70,500.50 L330.79,501.00 L330.89,501.50 L330.98,502.00 L331.07,502.50 L331.16,503.00 L331.25,503.50 L331.34,504.00 L331.43,504.50 L331.52,505.00 L331.61,505.50 L331.69,506.00 L331.77,506.50 L331.86,507.00 L331.94,507.50 L332.01,508.00 L332.09,508.50 L332.16,509.00 L332.23,509.50 L332.30,510.00 L332.37,510.50 L332.43,511.00 L332.49,511.50 L332.56,512.00 L332.62,512.50 L332.67,513.00 L332.73,513.50 L332.79,514.00 L332.85,514.50 L332.90,515.00 L332.95,515.50 L333.01,516.00 L333.06,516.50 L333.11,517.00 L333.16,517.50 L333.21,518.00 L333.26,518.50 L333.31,519.00 L333.35,519.50 L333.40,520.00 L333.45,520.50 L333.49,521.00 L333.54,521.50 L333.58,522.00 L333.62,522.50 L333.66,523.00 L333.71,523.50 L333.75,524.00 L333.79,524.50 L333.83,525.00 L333.87,525.50 L333.91,526.00 L333.94,526.50 L333.98,527.00 L334.02,527.50 L334.06,528.00 L334.09,528.50 L334.13,529.00 L334.16,529.50 L334.20,530.00 L334.24,530.50 L334.27,531.00 L334.30,531.50 L334.34,532.00 L334.37,532.50 L334.41,533.00 L334.44,533.50 L334.47,534.00 L334.50,534.50 L334.53,535.00 L334.57,535.50 L334.60,536.00 L334.63,536.50 L334.66,537.00 L334.69,537.50 L334.72,538.00 L334.74,538.50 L334.77,539.00 L334.80,539.50"/>
<path d="M85.49,75.40 L86.75,74.56 L87.97,73.75 L89.17,72.98 L90.36,72.22 L91.52,71.50 L92.66,70.80 L93.78,70.13 L94.88,69.49 L95.96,68.87 L97.02,68.27 L98.06,67.70 L99.08,67.15 L100.09,66.63 L101.07,66.13 L102.04,65.66 L102.99,65.21 L103.92,64.78 L104.84,64.37 L105.74,63.99 L106.62,63.63 L107.49,63.29 L108.34,62.97 L109.17,62.67 L109.99,62.39 L110.80,62.14 L111.59,61.91 L112.37,61.71 L113.14,61.54 L113.89,61.38 L114.62,61.25 L115.34,61.12 L116.04,61.01 L116.73,60.92 L117.41,60.83 L118.07,60.77 L118.72,60.71 L119.35,60.67 L119.98,60.64 L120.59,60.62 L121.19,60.61 L121.77,60.62 L122.35,60.64 L122.91,60.66 L123.47,60.70 L124.01,60.75 L124.54,60.81 L125.07,60.87 L125.58,60.95 L126.09,61.04 L126.59,61.13 L127.08,61.23 L127.56,61.34 L128.03,61.46 L128.50,61.58 L128.96,61.71 L129.42,61.85 L129.87,61.99 L130.31,62.14 L130.75,62.30 L131.18,62.46 L131.61,62.63 L132.04,62.80 L132.46,62.97 L132.87,63.15 L133.29,63.33 L133.70,63.52 L134.11,63.71 L134.51,63.90 L134.91,64.10 L135.31,64.30 L135.71,64.50 L136.10,64.70 L136.49,64.91 L136.88,65.12 L137.26,65.33 L137.64,65.55 L138.02,65.77 L138.40,65.99 L138.77,66.21 L139.14,66.44 L139.51,66.67 L139.87,66.90 L140.23,67.13 L140.59,67.37 L140.95,67.61 L141.30,67.85 L141.66,68.09 L142.00,68.34 L142.35,68.59 L142.69,68.84 L143.04,69.10 L143.37,69.35 L143.71,69.61 L144.04,69.87 L144.38,70.14 L144.70,70.40 L145.03,70.67 L145.36,70.94 L145.68,71.21 L146.00,71.49 L146.31,71.76 L146.63,72.04 L146.94,72.32 L147.25,72.61 L147.56,72.89 L147.87,73.18 L148.17,73.47 L148.47,73.76 L148.77,74.06 L149.07,74.35 L149.36,74.65 L149.66,74.95 L149.95,75.25 L150.24,75.55 L150.53,75.86 L150.81,76.16 L151.09,76.47 L151.38,76.78 L151.66,77.10 L151.93,77.41 L152.21,77.73 L152.48,78.05 L152.76,78.37 L153.03,78.69 L153.30,79.01 L153.56,79.34 L153.83,79.66 L154.09,79.99 L154.35,80.32 L154.61,80.65 L154.87,80.99 L155.13,81.32 L155.39,81.66 L155.64,82.00 L155.89,82.34 L156.14,82.68 L156.39,83.02 L156.64,83.36 L156.89,83.71 L157.13,84.06 L157.37,84.41 L157.62,84.76 L157.86,85.11 L158.10,85.46 L158.33,85.81 L158.57,86.17 L158.81,86.53 L159.04,86.89 L159.27,87.25 L159.51,87.61 L159.74,87.97 L159.96,88.33 L160.19,88.70 L160.42,89.06 L160.64,89.43 L160.87,89.80 L161.09,90.17 L161.31,90.54 L161.54,90.91 L161.76,91.28 L161.98,91.66 L162.19,92.03 L162.41,92.41 L162.63,92.79 L162.84,93.17 L163.06,93.55 L163.27,93.93 L163.48,94.31 L163.69,94.69 L163.90,95.07 L164.11,95.46 L164.32,95.84 L164.53,96.23 L164.74,96.62 L164.94,97.00 L165.15,97.39 L165.35,97.78 L165.56,98.17 L165.76,98.56 L165.96,98.96 L166.17,99.35 L166.37,99.74 L166.57,100.14 L166.77,100.53 L166.97,100.93 L167.17,101.32 L167.37,101.72 L167.57,102.12 L167.76,102.52 L167.96,102.92 L168.16,103.32 L168.35,103.72 L168.55,104.12 L168.74,104.52 L168.94,104.92 L169.13,105.32 L169.33,105.72 L169.52,106.13 L169.71,106.53 L169.91,106.93 L170.10,107.34 L170.29,107.74 L170.48,108.15 L170.68,108.55 L170.87,108.96 L171.06,109.36 L171.25,109.77 L171.44,110.18 L171.63,110.58 L171.82,110.99 L172.01,111.40 L172.20,111.81 L172.39,112.22 L172.58,112.62 L172.77,113.03 L172.96,113.44 L173.15,113.85 L173.33,114.26 L173.52,114.67 L173.71,115.08 L173.90,115.49 L174.08,115.90 L174.27,116.31 L174.46,116.73 L174.64,117.14 L174.83,117.55 L175.01,117.96 L175.20,118.38 L175.38,118.79 L175.57,119.20 L175.75,119.62 L175.94,120.03 L176.12,120.45 L176.30,120.86 L176.49,121.28 L176.67,121.69 L176.85,122.11 L177.04,122.52 L177.22,122.94 L177.40,123.35 L177.58,123.77 L177.76,124.19 L177.94,124.61 L178.12,125.02 L178.30,125.44 L178.48,125.86 L178.66,126.28 L178.84,126.70 L179.02,127.12 L179.20,127.54 L179.38,127.96 L179.56,128.38 L179.74,128.80 L179.91,129.22 L180.09,129.64 L180.27,130.06 L180.45,130.48 L180.62,130.91 L180.80,131.33 L180.97,131.75 L181.15,132.17 L181.32,132.60 L181.50,133.02 L181.67,133.45 L181.85,133.87 L182.02,134.29 L182.20,134.72 L182.37,135.14 L182.54,135.57 L182.72,136.00 L182.89,136.42 L183.06,136.85 L183.23,137.27 L183.41,137.70 L183.58,138.13 L183.75,138.56 L183.92,138.98 L184.09,139.41 L184.26,139.84 L184.43,140.27 L184.60,140.70 L184.77,141.13 L184.94,141.55 L185.11,141.98 L185.28,142.41 L185.45,142.84 L185.62,143.27 L185.78,143.71 L185.95,144.14 L186.12,144.57 L186.29,145.00 L186.45,145.43 L186.62,145.86 L186.79,146.29 L186.95,146.73 L187.12,147.16 L187.29,147.59 L187.45,148.03 L187.62,148.46 L187.78,148.89 L187.95,149.33 L188.11,149.76 L188.28,150.20 L188.44,150.63 L188.60,151.07 L188.77,151.50 L188.93,151.94 L189.09,152.37 L189.26,152.81 L189.42,153.24 L189.58,153.68 L189.75,154.12 L189.91,154.55 L190.07,154.99 L190.23,155.43 L190.39,155.87 L190.55,156.30 L190.71,156.74 L190.87,157.18 L191.03,157.62 L191.19,158.06 L191.35,158.50 L191.51,158.94 L191.67,159.38 L191.83,159.82 L191.99,160.26 L192.15,160.70 L192.31,161.14 L192.47,161.58 L192.63,162.02 L192.78,162.46 L192.94,162.90 L193.10,163.34 L193.26,163.78 L193.41,164.23 L193.57,164.67 L193.73,165.11 L193.88,165.55 L194.04,166.00 L194.20,166.44 L194.35,166.88 L194.51,167.33 L194.66,167.77 L194.82,168.21 L194.97,168.66 L195.13,169.10 L195.28,169.55 L195.44,169.99 L195.59,170.44 L195.75,170.88 L195.90,171.33 L196.06,171.77 L196.21,172.22 L196.36,172.66 L196.52,173.11 L196.67,173.55 L196.82,174.00 L196.97,174.45 L197.13,174.89 L197.28,175.34 L197.43,175.79 L197.58,176.24 L197.73,176.68 L197.89,177.13 L198.04,177.58 L198.19,178.03 L198.34,178.47 L198.49,178.92 L198.64,179.37 L198.79,179.82 L198.94,180.27 L199.09,180.72 L199.24,181.17 L199.39,181.62 L199.54,182.07 L199.69,182.52 L199.84,182.97 L199.99,183.42 L200.14,183.87 L200.30,184.31 L200.45,184.76 L200.61,185.21 L200.77,185.66 L200.93,186.11 L201.09,186.55 L201.25,187.00 L201.41,187.45 L201.57,187.89 L201.74,188.34 L201.90,188.79 L202.07,189.23 L202.24,189.68 L202.40,190.12 L202.57,190.57 L202.74,191.02 L202.91,191.46 L203.08,191.91 L203.25,192.35 L203.42,192.80 L203.59,193.24 L203.76,193.69 L203.93,194.14 L204.10,194.58 L204.27,195.03 L204.44,195.48 L204.61,195.92 L204.78,196.37 L204.95,196.82 L205.12,197.26 L205.29,197.71 L205.45,198.16 L205.62,198.61 L205.76,198.98 L208.20,203.00 L208.58,203.50 L208.98,204.00 L209.39,204.50 L209.81,205.00 L210.25,205.50 L210.69,206.00 L211.16,206.50 L211.63,207.00 L212.12,207.50 L212.61,208.00 L213.12,208.50 L213.64,209.00 L214.17,209.50 L214.71,210.00 L215.27,210.50 L215.83,211.00 L216.40,211.50 L216.98,212.00 L217.57,212.50 L218.17,213.00 L218.77,213.50 L219.39,214.00 L220.01,214.50 L220.64,215.00 L221.28,215.50 L221.92,216.00 L222.56,216.50 L223.21,217.00 L223.87,217.50 L224.52,218.00 L225.18,218.50 L225.83,219.00 L226.49,219.50 L227.14,220.00 L227.80,220.50 L228.44,221.00 L229.09,221.50 L229.73,222.00 L230.36,222.50 L230.98,223.00 L231.60,223.50 L232.22,224.00 L232.82,224.50 L233.42,225.00 L234.01,225.50 L234.59,226.00 L235.17,226.50 L235.74,227.00 L236.30,227.50 L236.86,228.00 L237.41,228.50 L237.95,229.00 L238.49,229.50 L239.02,230.00 L239.54,230.50 L240.06,231.00 L240.57,231.50 L241.08,232.00 L241.58,232.50 L242.07,233.00 L242.56,233.50 L243.04,234.00 L243.52,234.50 L243.99,235.00 L244.45,235.50 L244.91,236.00 L245.37,236.50 L245.81,237.00 L246.26,237.50 L246.69,238.00 L247.13,238.50 L247.55,239.00 L247.97,239.50 L248.39,240.00 L248.80,240.50 L249.21,241.00 L249.61,241.50 L250.00,242.00 L250.39,242.50 L250.78,243.00 L251.16,243.50 L251.54,244.00 L251.91,244.50 L252.28,245.00 L252.65,245.50 L253.01,246.00 L253.36,246.50 L253.71,247.00 L254.06,247.50 L254.40,248.00 L254.74,248.50 L255.08,249.00 L255.41,249.50 L255.74,250.00 L256.07,250.50 L256.39,251.00 L256.72,251.50 L257.03,252.00 L257.35,252.50 L257.66,253.00 L257.97,253.50 L258.28,254.00 L258.59,254.50 L258.89,255.00 L259.19,255.50 L259.49,256.00 L259.79,256.50 L260.09,257.00 L260.38,257.50 L260.68,258.00 L260.97,258.50 L261.26,259.00 L261.55,259.50 L261.84,260.00 L262.13,260.50 L262.42,261.00 L262.71,261.50 L262.99,262.00 L263.28,262.50 L263.57,263.00 L263.85,263.50 L264.14,264.00 L264.43,264.50 L264.71,265.00 L265.00,265.50 L265.29,266.00 L265.58,266.50 L265.87,267.00 L266.16,267.50 L266.45,268.00 L266.74,268.50 L267.04,269.00 L267.33,269.50 L267.63,270.00 L267.93,270.50 L268.23,271.00 L268.53,271.50 L268.84,272.00 L269.14,272.50 L269.45,273.00 L269.75,273.50 L270.06,274.00 L270.37,274.50 L270.68,275.00 L270.99,275.50 L271.30,276.00 L271.61,276.50 L271.92,277.00 L272.23,277.50 L272.54,278.00 L272.85,278.50 L273.17,279.00 L273.48,279.50 L273.79,280.00 L274.10,280.50 L274.41,281.00 L274.72,281.50 L275.03,282.00 L275.34,282.50 L275.65,283.00 L275.96,283.50 L276.26,284.00 L276.57,284.50 L276.87,285.00 L277.18,285.50 L277.48,286.00 L277.78,286.50 L278.08,287.00 L278.38,287.50 L278.67,288.00 L278.97,288.50 L279.26,289.00 L279.55,289.50 L279.84,290.00 L280.12,290.50 L280.41,291.00 L280.69,291.50 L280.97,292.00 L281.24,292.50 L281.52,293.00 L281.79,293.50 L282.06,294.00 L282.33,294.50 L282.60,295.00 L282.86,295.50 L283.13,296.00 L283.39,296.50 L283.64,297.00 L283.90,297.50 L284.16,298.00 L284.41,298.50 L284.66,299.00 L284.91,299.50 L285.16,300.00 L285.40,300.50 L285.65,301.00 L285.89,301.50 L286.13,302.00 L286.37,302.50 L286.60,303.00 L286.84,303.50 L287.07,304.00 L287.30,304.50 L287.53,305.00 L287.76,305.50 L287.99,306.00 L288.21,306.50 L288.44,307.00 L288.66,307.50 L288.88,308.00 L289.10,308.50 L289.32,309.00 L289.53,309.50 L289.75,310.00 L289.96,310.50 L290.17,311.00 L290.38,311.50 L290.59,312.00 L290.79,312.50 L291.00,313.00 L291.20,313.50 L291.41,314.00 L291.61,314.50 L291.81,315.00 L292.01,315.50 L292.20,316.00 L292.40,316.50 L292.60,317.00 L292.79,317.50 L292.98,318.00 L293.17,318.50 L293.36,319.00 L293.55,319.50 L293.74,320.00 L293.93,320.50 L294.11,321.00 L294.30,321.50 L294.48,322.00 L294.66,322.50 L294.85,323.00 L295.03,323.50 L295.21,324.00 L295.38,324.50 L295.56,325.00 L295.74,325.50 L295.91,326.00 L296.09,326.50 L296.26,327.00 L296.44,327.50 L296.61,328.00 L296.78,328.50 L296.95,329.00 L297.12,329.50 L297.29,330.00 L297.46,330.50 L297.62,331.00 L297.79,331.50 L297.96,332.00 L298.12,332.50 L298.29,333.00 L298.45,333.50 L298.61,334.00 L298.78,334.50 L298.94,335.00 L299.10,335.50 L299.26,336.00 L299.42,336.50 L299.58,337.00 L299.74,337.50 L299.90,338.00 L300.06,338.50 L300.22,339.00 L300.37,339.50 L300.53,340.00 L300.69,340.50 L300.84,341.00 L301.00,341.50 L301.15,342.00 L301.31,342.50 L301.46,343.00 L301.62,343.50 L301.77,344.00 L301.92,344.50 L302.08,345.00 L302.23,345.50 L302.38,346.00 L302.53,346.50 L302.69,347.00 L302.84,347.50 L302.99,348.00 L303.14,348.50 L303.29,349.00 L303.44,349.50 L303.59,350.00 L303.74,350.50 L303.88,351.00 L304.03,351.50 L304.18,352.00 L304.33,352.50 L304.47,353.00 L304.62,353.50 L304.77,354.00 L304.91,354.50 L305.06,355.00 L305.20,355.50 L305.35,356.00 L305.49,356.50 L305.64,357.00 L305.78,357.50 L305.92,358.00 L306.06,358.50 L306.21,359.00 L306.35,359.50 L306.49,360.00 L306.63,360.50 L306.77,361.00 L306.91,361.50 L307.06,362.00 L307.20,362.50 L307.33,363.00 L307.47,363.50 L307.61,364.00 L307.75,364.50 L307.89,365.00 L308.03,365.50 L308.17,366.00 L308.30,366.50 L308.44,367.00 L308.58,367.50 L308.71,368.00 L308.85,368.50 L308.99,369.00 L309.12,369.50 L309.26,370.00 L309.39,370.50 L309.53,371.00 L309.66,371.50 L309.79,372.00 L309.93,372.50 L310.06,373.00 L310.19,373.50 L310.33,374.00 L310.46,374.50 L310.59,375.00 L310.72,375.50 L310.85,376.00 L310.98,376.50 L311.11,377.00 L311.24,377.50 L311.37,378.00 L311.50,378.50 L311.63,379.00 L311.76,379.50 L311.89,380.00 L312.02,380.50 L312.15,381.00 L312.28,381.50 L312.41,382.00 L312.53,382.50 L312.66,383.00 L312.79,383.50 L312.91,384.00 L313.04,384.50 L313.17,385.00 L313.29,385.50 L313.42,386.00 L313.54,386.50 L313.67,387.00 L313.79,387.50 L313.92,388.00 L314.04,388.50 L314.16,389.00 L314.29,389.50 L314.41,390.00 L314.53,390.50 L314.66,391.00 L314.78,391.50 L314.90,392.00 L315.02,392.50 L315.15,393.00 L315.27,393.50 L315.39,394.00 L315.51,394.50 L315.63,395.00 L315.75,395.50 L315.87,396.00 L315.99,396.50 L316.11,397.00 L316.23,397.50 L316.35,398.00 L316.47,398.50 L316.59,399.00 L316.71,399.50 L316.83,400.00 L316.94,400.50 L317.06,401.00 L317.18,401.50 L317.30,402.00 L317.41,402.50 L317.53,403.00 L317.65,403.50 L317.76,404.00 L317.88,404.50 L318.00,405.00 L318.11,405.50 L318.23,406.00 L318.34,406.50 L318.46,407.00 L318.57,407.50 L318.69,408.00 L318.80,408.50 L318.92,409.00 L319.03,409.50 L319.14,410.00 L319.26,410.50 L319.37,411.00 L319.49,411.50 L319.60,412.00 L319.71,412.50 L319.82,413.00 L319.94,413.50 L320.05,414.00 L320.16,414.50 L320.27,415.00 L320.39,415.50 L320.50,416.00 L320.61,416.50 L320.72,417.00 L320.83,417.50 L320.94,418.00 L321.05,418.50 L321.16,419.00 L321.27,419.50 L321.38,420.00 L321.49,420.50 L321.60,421.00 L321.71,421.50 L321.82,422.00 L321.93,422.50 L322.04,423.00 L322.15,423.50 L322.26,424.00 L322.37,424.50 L322.47,425.00 L322.58,425.50 L322.69,426.00 L322.80,426.50 L322.91,427.00 L323.01,427.50 L323.12,428.00 L323.23,428.50 L323.34,429.00 L323.44,429.50 L323.55,430.00 L323.66,430.50 L323.76,431.00 L323.87,431.50 L323.97,432.00 L324.08,432.50 L324.19,433.00 L324.29,433.50 L324.40,434.00 L324.50,434.50 L324.61,435.00 L324.71,435.50 L324.82,436.00 L324.92,436.50 L325.03,437.00 L325.13,437.50 L325.24,438.00 L325.34,438.50 L325.45,439.00 L325.55,439.50 L325.66,440.00 L325.76,440.50 L325.86,441.00 L325.97,441.50 L326.07,442.00 L326.17,442.50 L326.28,443.00 L326.38,443.50 L326.48,444.00 L326.59,444.50 L326.69,445.00 L326.79,445.50 L326.90,446.00 L327.00,446.50 L327.10,447.00 L327.20,447.50 L327.31,448.00 L327.41,448.50 L327.51,449.00 L327.61,449.50 L327.71,450.00 L327.81,450.50 L327.92,451.00 L328.02,451.50 L328.12,452.00 L328.22,452.50 L328.32,453.00 L328.42,453.50 L328.52,454.00 L328.62,454.50 L328.72,455.00 L328.82,455.50 L328.92,456.00 L329.02,456.50 L329.12,457.00 L329.22,457.50 L329.32,458.00 L329.42,458.50 L329.52,459.00 L329.62,459.50 L329.72,460.00 L329.82,460.50 L329.92,461.00 L330.01,461.50 L330.11,462.00 L330.21,462.50 L330.31,463.00 L330.41,463.50 L330.50,464.00 L330.60,464.50 L330.70,465.00 L330.80,465.50 L330.89,466.00 L330.99,466.50 L331.09,467.00 L331.18,467.50 L331.28,468.00 L331.38,468.50 L331.47,469.00 L331.57,469.50 L331.67,470.00 L331.76,470.50 L331.86,471.00 L331.95,471.50 L332.05,472.00 L332.14,472.50 L332.24,473.00 L332.33,473.50 L332.43,474.00 L332.52,474.50 L332.62,475.00 L332.71,475.50 L332.81,476.00 L332.90,476.50 L332.99,477.00 L333.09,477.50 L333.18,478.00 L333.28,478.50 L333.37,479.00 L333.46,479.50 L333.55,480.00 L333.65,480.50 L333.74,481.00 L333.83,481.50 L333.92,482.00 L334.02,482.50 L334.11,483.00 L334.20,483.50 L334.29,484.00 L334.38,484.50 L334.47,485.00 L334.57,485.50 L334.66,486.00 L334.75,486.50 L334.84,487.00 L334.93,487.50 L335.02,488.00 L335.11,488.50 L335.20,489.00 L335.29,489.50 L335.38,490.00 L335.47,490.50 L335.56,491.00 L335.65,491.50 L335.74,492.00 L335.82,492.50 L335.91,493.00 L336.00,493.50 L336.09,494.00 L336.18,494.50 L336.26,495.00 L336.35,495.50 L336.44,496.00 L336.53,496.50 L336.61,497.00 L336.70,497.50 L336.79,498.00 L336.87,498.50 L336.96,499.00 L337.05,499.50 L337.13,500.00 L337.22,500.50 L337.31,501.00 L337.39,501.50 L337.48,502.00 L337.56,502.50 L337.65,503.00 L337.73,503.50 L337.82,504.00 L337.90,504.50 L337.98,505.00 L338.07,505.50 L338.15,506.00 L338.24,506.50 L338.32,507.00 L338.40,507.50 L338.49,508.00 L338.57,508.50 L338.65,509.00 L338.73,509.50 L338.82,510.00 L338.90,510.50 L338.98,511.00 L339.06,511.50 L339.14,512.00 L339.22,512.50 L339.31,513.00 L339.39,513.50 L339.47,514.00 L339.55,514.50 L339.63,515.00 L339.71,515.50 L339.79,516.00 L339.87,516.50 L339.95,517.00 L340.03,517.50 L340.11,518.00 L340.19,518.50 L340.26,519.00 L340.34,519.50 L340.42,520.00 L340.50,520.50 L340.58,521.00 L340.66,521.50 L340.73,522.00 L340.81,522.50 L340.89,523.00 L340.96,523.50 L341.04,524.00 L341.12,524.50 L341.19,525.00 L341.27,525.50 L341.35,526.00 L341.42,526.50 L341.50,527.00 L341.57,527.50 L341.65,528.00 L341.72,528.50 L341.80,529.00 L341.87,529.50 L341.95,530.00 L342.02,530.50 L342.09,531.00 L342.17,531.50 L342.24,532.00 L342.31,532.50 L342.39,533.00 L342.46,533.50 L342.53,534.00 L342.60,534.50 L342.68,535.00 L342.75,535.50 L342.82,536.00 L342.89,536.50 L342.96,537.00 L343.03,537.50 L343.10,538.00 L343.17,538.50 L343.24,539.00 L343.32,539.50"/>
</g>
<line x1="178.9" y1="177.25" x2="578.9" y2="538.3" stroke="#000" stroke-width="2" stroke-dasharray="16 8.9" stroke-linecap="round" fill="none"/>
<rect x="88.10" y="15.90" width="498.50" height="522.90" fill="none" stroke="#000" stroke-width="2.1"/>
<path d="M97.28,538.80v-4.7M97.28,15.90v4.7M105.04,538.80v-4.7M105.04,15.90v4.7M111.76,538.80v-4.7M111.76,15.90v4.7M117.69,538.80v-4.7M117.69,15.90v4.7M122.99,538.80v-8.8M122.99,15.90v8.8M157.88,538.80v-4.7M157.88,15.90v4.7M178.29,538.80v-4.7M178.29,15.90v4.7M192.77,538.80v-4.7M192.77,15.90v4.7M204.00,538.80v-4.7M204.00,15.90v4.7M213.18,538.80v-4.7M213.18,15.90v4.7M220.94,538.80v-4.7M220.94,15.90v4.7M227.66,538.80v-4.7M227.66,15.90v4.7M233.59,538.80v-4.7M233.59,15.90v4.7M238.89,538.80v-8.8M238.89,15.90v8.8M273.78,538.80v-4.7M273.78,15.90v4.7M294.19,538.80v-4.7M294.19,15.90v4.7M308.67,538.80v-4.7M308.67,15.90v4.7M319.90,538.80v-4.7M319.90,15.90v4.7M329.08,538.80v-4.7M329.08,15.90v4.7M336.84,538.80v-4.7M336.84,15.90v4.7M343.56,538.80v-4.7M343.56,15.90v4.7M349.49,538.80v-4.7M349.49,15.90v4.7M354.80,538.80v-8.8M354.80,15.90v8.8M389.69,538.80v-4.7M389.69,15.90v4.7M410.09,538.80v-4.7M410.09,15.90v4.7M424.58,538.80v-4.7M424.58,15.90v4.7M435.81,538.80v-4.7M435.81,15.90v4.7M444.98,538.80v-4.7M444.98,15.90v4.7M452.74,538.80v-4.7M452.74,15.90v4.7M459.47,538.80v-4.7M459.47,15.90v4.7M465.39,538.80v-4.7M465.39,15.90v4.7M470.70,538.80v-8.8M470.70,15.90v8.8M505.59,538.80v-4.7M505.59,15.90v4.7M526.00,538.80v-4.7M526.00,15.90v4.7M540.48,538.80v-4.7M540.48,15.90v4.7M551.71,538.80v-4.7M551.71,15.90v4.7M560.89,538.80v-4.7M560.89,15.90v4.7M568.65,538.80v-4.7M568.65,15.90v4.7M575.37,538.80v-4.7M575.37,15.90v4.7M581.30,538.80v-4.7M581.30,15.90v4.7M88.10,519.71h4.7M586.60,519.71h-4.7M88.10,508.19h4.7M586.60,508.19h-4.7M88.10,500.02h4.7M586.60,500.02h-4.7M88.10,493.68h4.7M586.60,493.68h-4.7M88.10,488.50h4.7M586.60,488.50h-4.7M88.10,484.12h4.7M586.60,484.12h-4.7M88.10,480.33h4.7M586.60,480.33h-4.7M88.10,476.98h4.7M586.60,476.98h-4.7M88.10,473.99h8.8M586.60,473.99h-8.8M88.10,454.30h4.7M586.60,454.30h-4.7M88.10,442.78h4.7M586.60,442.78h-4.7M88.10,434.61h4.7M586.60,434.61h-4.7M88.10,428.27h4.7M586.60,428.27h-4.7M88.10,423.09h4.7M586.60,423.09h-4.7M88.10,418.71h4.7M586.60,418.71h-4.7M88.10,414.91h4.7M586.60,414.91h-4.7M88.10,411.57h4.7M586.60,411.57h-4.7M88.10,408.57h8.8M586.60,408.57h-8.8M88.10,388.88h4.7M586.60,388.88h-4.7M88.10,377.37h4.7M586.60,377.37h-4.7M88.10,369.19h4.7M586.60,369.19h-4.7M88.10,362.85h4.7M586.60,362.85h-4.7M88.10,357.67h4.7M586.60,357.67h-4.7M88.10,353.30h4.7M586.60,353.30h-4.7M88.10,349.50h4.7M586.60,349.50h-4.7M88.10,346.16h4.7M586.60,346.16h-4.7M88.10,343.16h8.8M586.60,343.16h-8.8M88.10,323.47h4.7M586.60,323.47h-4.7M88.10,311.95h4.7M586.60,311.95h-4.7M88.10,303.78h4.7M586.60,303.78h-4.7M88.10,297.44h4.7M586.60,297.44h-4.7M88.10,292.26h4.7M586.60,292.26h-4.7M88.10,287.88h4.7M586.60,287.88h-4.7M88.10,284.09h4.7M586.60,284.09h-4.7M88.10,280.74h4.7M586.60,280.74h-4.7M88.10,277.75h8.8M586.60,277.75h-8.8M88.10,258.06h4.7M586.60,258.06h-4.7M88.10,246.54h4.7M586.60,246.54h-4.7M88.10,238.37h4.7M586.60,238.37h-4.7M88.10,232.03h4.7M586.60,232.03h-4.7M88.10,226.85h4.7M586.60,226.85h-4.7M88.10,222.47h4.7M586.60,222.47h-4.7M88.10,218.68h4.7M586.60,218.68h-4.7M88.10,215.33h4.7M586.60,215.33h-4.7M88.10,212.34h8.8M586.60,212.34h-8.8M88.10,192.65h4.7M586.60,192.65h-4.7M88.10,181.13h4.7M586.60,181.13h-4.7M88.10,172.96h4.7M586.60,172.96h-4.7M88.10,166.62h4.7M586.60,166.62h-4.7M88.10,161.44h4.7M586.60,161.44h-4.7M88.10,157.06h4.7M586.60,157.06h-4.7M88.10,153.26h4.7M586.60,153.26h-4.7M88.10,149.92h4.7M586.60,149.92h-4.7M88.10,146.92h8.8M586.60,146.92h-8.8M88.10,127.23h4.7M586.60,127.23h-4.7M88.10,115.72h4.7M586.60,115.72h-4.7M88.10,107.54h4.7M586.60,107.54h-4.7M88.10,101.20h4.7M586.60,101.20h-4.7M88.10,96.02h4.7M586.60,96.02h-4.7M88.10,91.65h4.7M586.60,91.65h-4.7M88.10,87.85h4.7M586.60,87.85h-4.7M88.10,84.51h4.7M586.60,84.51h-4.7M88.10,81.51h8.8M586.60,81.51h-8.8M88.10,61.82h4.7M586.60,61.82h-4.7M88.10,50.30h4.7M586.60,50.30h-4.7M88.10,42.13h4.7M586.60,42.13h-4.7M88.10,35.79h4.7M586.60,35.79h-4.7M88.10,30.61h4.7M586.60,30.61h-4.7M88.10,26.23h4.7M586.60,26.23h-4.7M88.10,22.44h4.7M586.60,22.44h-4.7M88.10,19.09h4.7M586.60,19.09h-4.7" stroke="#000" stroke-width="1.8" stroke-linecap="round" fill="none"/>
<path d="M290.70,294.40H308.30M290.70,289.90v9M308.30,289.90v9M308.60,324.60H343.20M308.60,320.10v9M343.20,320.10v9M343.20,343.10H371.20M343.20,338.60v9M371.20,338.60v9M370.60,361.80H393.00M370.60,357.30v9M393.00,357.30v9M392.90,386.90H440.00M392.90,382.40v9M440.00,382.40v9M439.40,403.20H470.00M439.40,398.70v9M470.00,398.70v9M469.60,429.10H509.80M469.60,424.60v9M509.80,424.60v9M509.20,463.70H533.80M509.20,459.20v9M533.80,459.20v9" stroke="#000" stroke-width="2" fill="none"/>
<circle cx="298.7" cy="294.4" r="4.5" fill="#000"/>
<circle cx="326" cy="324.6" r="4.5" fill="#000"/>
<circle cx="356.9" cy="343.1" r="4.5" fill="#000"/>
<circle cx="381.7" cy="361.8" r="4.5" fill="#000"/>
<circle cx="416" cy="386.9" r="4.5" fill="#000"/>
<circle cx="454.8" cy="403.2" r="4.5" fill="#000"/>
<circle cx="489.3" cy="429.1" r="4.5" fill="#000"/>
<circle cx="520.9" cy="463.7" r="4.5" fill="#000"/>
<path d="M230.3,346.25H280.6M268.20,342.05L281.6,346.25L268.20,350.45" stroke="#000" stroke-width="1.6" fill="none" stroke-linecap="round" stroke-linejoin="round"/>
<path d="M229.6,408.4H309.7M297.30,404.20L310.7,408.4L297.30,412.60" stroke="#000" stroke-width="1.6" fill="none" stroke-linecap="round" stroke-linejoin="round"/>
<path d="M383.7,495.5H343.3M355.70,491.30L342.3,495.5L355.70,499.70" stroke="#000" stroke-width="1.6" fill="none" stroke-linecap="round" stroke-linejoin="round"/>
<text x="47.4" y="29.5" font-size="23.5" font-family="'Liberation Serif', serif" >10</text>
<text x="70.4" y="16.0" font-size="16.5" font-family="'Liberation Serif', serif" >7</text>
<text x="47.1" y="93.3" font-size="23.5" font-family="'Liberation Serif', serif" >10</text>
<text x="70.8" y="79.7" font-size="16.5" font-family="'Liberation Serif', serif" >6</text>
<text x="46.7" y="157.5" font-size="23.5" font-family="'Liberation Serif', serif" >10</text>
<text x="71.0" y="144.3" font-size="16.5" font-family="'Liberation Serif', serif" >5</text>
<text x="46.7" y="224.2" font-size="23.5" font-family="'Liberation Serif', serif" >10</text>
<text x="71.7" y="210.5" font-size="16.5" font-family="'Liberation Serif', serif" >4</text>
<text x="46.9" y="286.7" font-size="23.5" font-family="'Liberation Serif', serif" >10</text>
<text x="71.7" y="273.0" font-size="16.5" font-family="'Liberation Serif', serif" >3</text>
<text x="47.1" y="419.2" font-size="23.5" font-family="'Liberation Serif', serif" >10</text>
<text x="72.3" y="406.0" font-size="16.5" font-family="'Liberation Serif', serif" >1</text>
<text x="46.9" y="485.4" font-size="23.5" font-family="'Liberation Serif', serif" >10</text>
<text x="70.2" y="472.1" font-size="16.5" font-family="'Liberation Serif', serif" >0</text>
<text x="40.1" y="551.0" font-size="23.5" font-family="'Liberation Serif', serif" >10</text>
<text x="64.9" y="538.4" font-size="16.5" font-family="'Liberation Serif', serif" >-1</text>
<text x="49.1" y="351.8" font-size="19.8" font-family="'Liberation Serif', serif" >10</text>
<text x="69.0" y="340.5" font-size="14" font-family="'Liberation Serif', serif" >2</text>
<text x="102.4" y="575.2" font-size="23.5" font-family="'Liberation Serif', serif" >10</text>
<text x="127.4" y="561.8" font-size="16.5" font-family="'Liberation Serif', serif" >-3</text>
<text x="216.4" y="575.2" font-size="23.5" font-family="'Liberation Serif', serif" >10</text>
<text x="241.4" y="561.8" font-size="16.5" font-family="'Liberation Serif', serif" >-2</text>
<text x="324.4" y="575.2" font-size="23.5" font-family="'Liberation Serif', serif" >10</text>
<text x="349.4" y="561.8" font-size="16.5" font-family="'Liberation Serif', serif" >-1</text>
<text x="444.9" y="575.2" font-size="23.5" font-family="'Liberation Serif', serif" >10</text>
<text x="469.4" y="561.8" font-size="16.5" font-family="'Liberation Serif', serif" >0</text>
<text x="565.7" y="575.2" font-size="23.5" font-family="'Liberation Serif', serif" >10</text>
<text x="591.0" y="561.8" font-size="16.5" font-family="'Liberation Serif', serif" >1</text>
<text x="272.65" y="608" font-size="23" textLength="139.5" lengthAdjust="spacingAndGlyphs" font-family="'Liberation Serif', serif">Energy (MeV)</text>
<g transform="translate(19.8,452.2) rotate(-90)" font-size="23" font-family="'Liberation Serif', serif">
<text x="1.37" y="0" textLength="167.84" lengthAdjust="spacingAndGlyphs">j(E) (particles/cm</text>
<text x="174.0" y="-6.4" font-size="14.7">2</text>
<text x="187.28" y="0" textLength="129.23" lengthAdjust="spacingAndGlyphs">-sec-MeV-sr)</text>
</g>
<text x="123.9" y="353.3" font-size="21.4" font-style="italic" font-family="'Liberation Serif', serif">t</text><text x="136.26" y="353.3" font-size="21.4" textLength="60.47" lengthAdjust="spacingAndGlyphs" font-family="'Liberation Serif', serif">= 50 Ω</text><text x="198.5" y="357.8" font-size="14" font-style="italic" font-family="'Liberation Serif', serif">p</text><text x="199.5" y="341.5" font-size="13" font-family="'Liberation Serif', serif">-</text><text x="205.3" y="341.5" font-size="13" font-family="'Liberation Serif', serif">1</text>
<text x="154.84" y="415.6" font-size="21.4" textLength="42.52" lengthAdjust="spacingAndGlyphs" font-family="'Liberation Serif', serif">75 Ω</text><text x="199.0" y="420.3" font-size="14" font-style="italic" font-family="'Liberation Serif', serif">p</text><text x="200.5" y="404.3" font-size="13" font-family="'Liberation Serif', serif">-</text><text x="205.8" y="404.3" font-size="13" font-family="'Liberation Serif', serif">1</text>
<text x="392.62" y="503.0" font-size="21.4" textLength="52.86" lengthAdjust="spacingAndGlyphs" font-family="'Liberation Serif', serif">100 Ω</text><text x="446.4" y="507.3" font-size="14" font-style="italic" font-family="'Liberation Serif', serif">p</text><text x="447.3" y="492.8" font-size="13" font-family="'Liberation Serif', serif">-</text><text x="452.6" y="492.8" font-size="13" font-family="'Liberation Serif', serif">1</text>
</svg></body></html>
